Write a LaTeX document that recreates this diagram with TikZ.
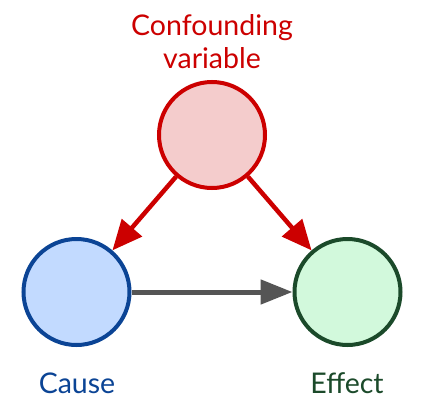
\documentclass[tikz,border=0pt]{standalone}
\usepackage{fontspec}
\setmainfont{Lato}
\usetikzlibrary{arrows.meta}
\definecolor{cred}{HTML}{CC0000}
\definecolor{credfill}{HTML}{F4CCCC}
\definecolor{cblue}{HTML}{0B4495}
\definecolor{cbluefill}{HTML}{C2DAFF}
\definecolor{cgreen}{HTML}{1B4A2A}
\definecolor{cgreenfill}{HTML}{D2F9DC}
\definecolor{cgray}{HTML}{555555}
\tikzset{
  var/.style={circle, minimum size=106pt, inner sep=0pt, line width=4pt},
  lbl/.style={anchor=base, font=\fontsize{28.5}{33}\selectfont, inner sep=0pt},
  redarrow/.style={draw=cred, line width=4.5pt, -{Triangle[length=30pt,width=26pt]}},
  grayarrow/.style={draw=cgray, line width=5pt, -{Triangle[length=32pt,width=24pt]}}
}
\begin{document}
\begin{tikzpicture}[x=1pt,y=-1pt]
\useasboundingbox (0,0) rectangle (423,407);
\node[var, draw=cred, fill=credfill] (conf) at (212,135) {};
\node[var, draw=cblue, fill=cbluefill] (cause) at (76.5,292) {};
\node[var, draw=cgreen, fill=cgreenfill] (effect) at (347.5,292) {};
\node[lbl, text=cred] (t1) at (212,35) {Confounding};
\node[lbl, text=cred] (t2) at (212,68) {variable};
\node[lbl, text=cblue] (tc) at (77,393) {Cause};
\node[lbl, text=cgreen] (te) at (347,393) {Effect};
\draw[redarrow] (conf) -- (cause);
\draw[redarrow] (conf) -- (effect);
\draw[grayarrow] (cause) -- (effect);
\end{tikzpicture}
\end{document}
